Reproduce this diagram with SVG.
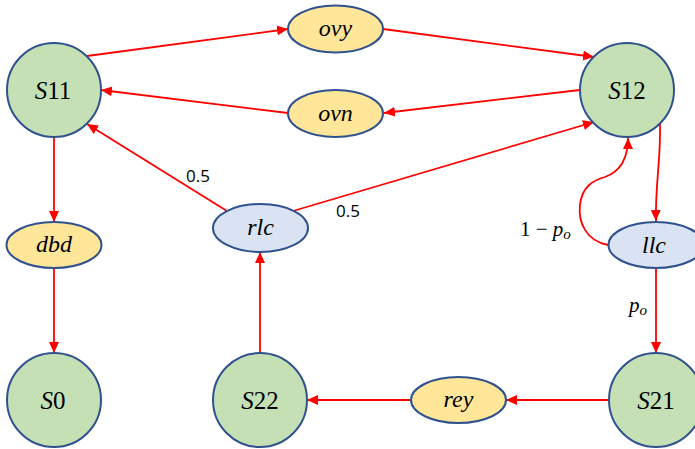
<svg xmlns="http://www.w3.org/2000/svg" width="695" height="449" viewBox="0 0 695 449">
<style>
.state{fill:#C5E0B4;stroke:#2F528F;stroke-width:2}
.act{fill:#FFE699;stroke:#2F528F;stroke-width:2}
.ctl{fill:#DAE3F3;stroke:#2F528F;stroke-width:2}
.lbl{font-family:"Liberation Serif","DejaVu Serif",serif;fill:#000;text-anchor:middle}
.big{font-size:25px}
.mid{font-size:24px;font-style:italic}
.edge{fill:none;stroke:#FF0000;stroke-width:1.8}
.num{font-family:"Open Sans","Liberation Sans",sans-serif;font-size:17px;fill:#000;text-anchor:middle}
.math{font-family:"Liberation Serif","DejaVu Serif",serif;font-size:21px;fill:#000}
</style>
<defs>
<marker id="ah" markerUnits="userSpaceOnUse" markerWidth="11" markerHeight="10" refX="11" refY="5" orient="auto">
<path d="M0,0 L11,5 L0,10 z" fill="#FF0000"/>
</marker>
</defs>
<rect width="695" height="449" fill="#fff"/>
<g id="connectors">
<path class="edge" marker-end="url(#ah)" d="M87,56 L288,29"/>
<path class="edge" marker-end="url(#ah)" d="M383,29 L594,57"/>
<path class="edge" marker-end="url(#ah)" d="M580,90 L384,113"/>
<path class="edge" marker-end="url(#ah)" d="M288,113 L101,90"/>
<path class="edge" marker-end="url(#ah)" d="M227,211 L87,124"/>
<path class="edge" marker-end="url(#ah)" d="M293,211 L594,122"/>
<path class="edge" marker-end="url(#ah)" d="M54,137 L54,222"/>
<path class="edge" marker-end="url(#ah)" d="M54,268 L54,353"/>
<path class="edge" marker-end="url(#ah)" d="M260,353 L260,252"/>
<path class="edge" marker-end="url(#ah)" d="M609,400 L506,400"/>
<path class="edge" marker-end="url(#ah)" d="M411,400 L307,400"/>
<path class="edge" marker-end="url(#ah)" d="M656,268 L656,353"/>
<path class="edge" marker-end="url(#ah)" d="M660,123 C661,160 655,185 656,221"/>
<path class="edge" marker-end="url(#ah)" d="M608,245 C586,241 578,222 580,205 C582,186 594,180 605,177 C619,172 628,160 628,138"/>
<text class="num" x="198" y="182">0.5</text>
<text class="num" x="348" y="217">0.5</text>
<text class="math" x="520" y="236">1 − <tspan font-style="italic">p</tspan><tspan font-style="italic" font-size="15px" dy="3">o</tspan></text>
<text class="math" x="629" y="312"><tspan font-style="italic">p</tspan><tspan font-style="italic" font-size="15px" dy="3">o</tspan></text>
</g>
<g id="S11"><circle class="state" cx="54" cy="90" r="47"/><text class="lbl big" x="53" y="99"><tspan font-style="italic">S</tspan>11</text></g>
<g id="S12"><circle class="state" cx="627" cy="90" r="47"/><text class="lbl big" x="627" y="99"><tspan font-style="italic">S</tspan>12</text></g>
<g id="S0"><circle class="state" cx="54" cy="400" r="47"/><text class="lbl big" x="53" y="409"><tspan font-style="italic">S</tspan>0</text></g>
<g id="S22"><circle class="state" cx="260" cy="400" r="47"/><text class="lbl big" x="260" y="409"><tspan font-style="italic">S</tspan>22</text></g>
<g id="S21"><circle class="state" cx="656" cy="400" r="47"/><text class="lbl big" x="656" y="409"><tspan font-style="italic">S</tspan>21</text></g>
<g id="ovy"><ellipse class="act" cx="335.5" cy="29" rx="47.5" ry="23.5"/><text class="lbl mid" x="335.5" y="36">ovy</text></g>
<g id="ovn"><ellipse class="act" cx="335.5" cy="113.5" rx="47.5" ry="23.5"/><text class="lbl mid" x="335.5" y="121">ovn</text></g>
<g id="dbd"><ellipse class="act" cx="54" cy="245" rx="47.5" ry="23"/><text class="lbl mid" x="54" y="252">dbd</text></g>
<g id="rey"><ellipse class="act" cx="458.5" cy="400" rx="47.5" ry="23"/><text class="lbl mid" x="458.5" y="407">rey</text></g>
<g id="rlc"><ellipse class="ctl" cx="260.5" cy="228" rx="47.5" ry="24"/><text class="lbl mid" x="260.5" y="235">rlc</text></g>
<g id="llc"><ellipse class="ctl" cx="656" cy="245" rx="47.5" ry="23"/><text class="lbl mid" x="654" y="253">llc</text></g>
</svg>
